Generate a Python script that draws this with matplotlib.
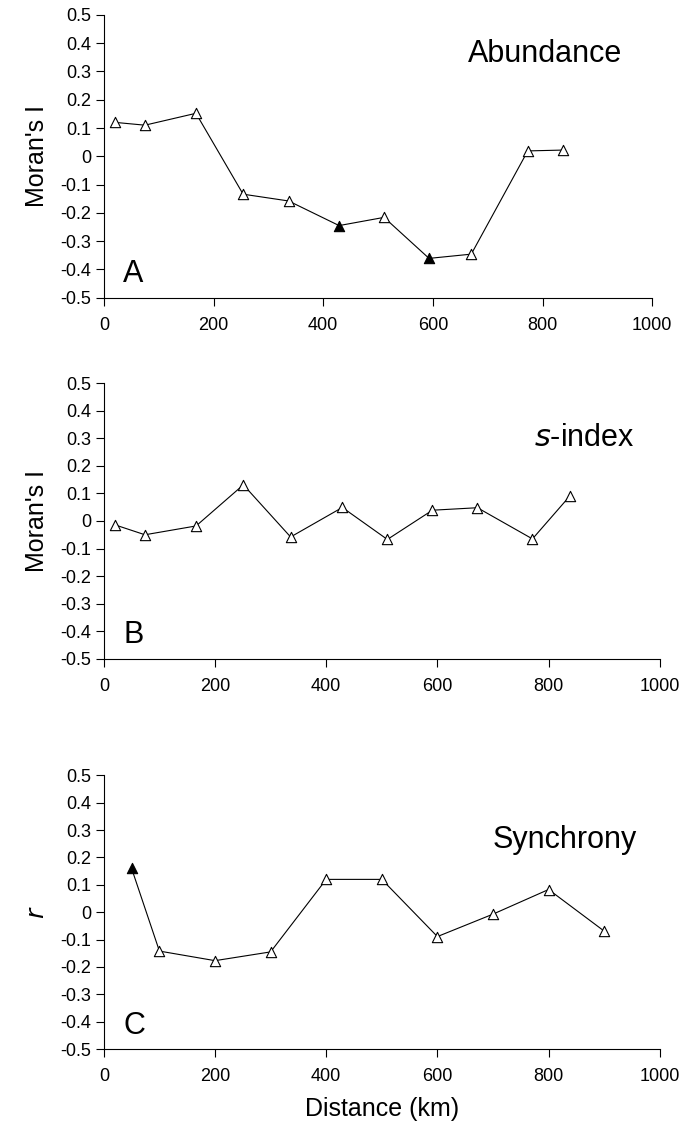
import numpy as np
import matplotlib
matplotlib.use("Agg")
import matplotlib.pyplot as plt

plt.rcParams['font.family'] = ['Liberation Sans', 'DejaVu Sans']

# panel A - abundance
abund_x = [20, 75, 168, 254, 337, 429, 511, 593, 670, 773, 837]
abund_y = [0.12, 0.11, 0.152, -0.134, -0.158, -0.245, -0.216, -0.361, -0.346, 0.019, 0.022]
abund_sig = [False, False, False, False, False, True, False, True, False, False, False]

# panel B - s-index
sidx_x = [20, 74, 166, 251, 336, 429, 510, 591, 672, 771, 838]
sidx_y = [-0.014, -0.05, -0.018, 0.131, -0.058, 0.049, -0.067, 0.039, 0.048, -0.065, 0.09]
sidx_sig = [False] * 11

# panel C - synchrony
sync_x = [50, 100, 200, 300, 400, 500, 600, 700, 800, 900]
sync_y = [0.16, -0.142, -0.177, -0.145, 0.12, 0.12, -0.089, -0.007, 0.083, -0.069]
sync_sig = [True, False, False, False, False, False, False, False, False, False]

yticks = [0.5, 0.4, 0.3, 0.2, 0.1, 0, -0.1, -0.2, -0.3, -0.4, -0.5]
ytick_labels = ['0.5', '0.4', '0.3', '0.2', '0.1', '0', '-0.1', '-0.2', '-0.3', '-0.4', '-0.5']
xticks = [0, 200, 400, 600, 800, 1000]

fig = plt.figure(figsize=(6.83, 11.45), dpi=100)

# (x, y, significant, title, title pos, letter, ylabel, axes rect)
panels = [
    (abund_x, abund_y, abund_sig, "Abundance", (0.805, 0.86), "A", "Moran's I", [0.152, 0.740, 0.803, 0.247]),
    (sidx_x, sidx_y, sidx_sig, "$\\it{s}$-index", (0.865, 0.80), "B", "Moran's I", [0.152, 0.4245, 0.814, 0.241]),
    (sync_x, sync_y, sync_sig, "Synchrony", (0.829, 0.763), "C", "$\\it{r}$", [0.152, 0.0838, 0.814, 0.239]),
]

for x, y, sig, title, tpos, letter, ylab, rect in panels:
    ax = fig.add_axes(rect)
    ax.plot(x, y, color='black', lw=0.8, zorder=1)
    xs = np.array(x)
    ys = np.array(y)
    s = np.array(sig)
    ax.scatter(xs[~s], ys[~s], marker='^', s=55, facecolor='white', edgecolor='black', linewidth=0.8, zorder=2)
    ax.scatter(xs[s], ys[s], marker='^', s=55, facecolor='black', edgecolor='black', linewidth=0.8, zorder=2)
    ax.set_xlim(0, 1000)
    ax.set_ylim(-0.5, 0.5)
    ax.set_yticks(yticks)
    ax.set_yticklabels(ytick_labels)
    ax.set_xticks(xticks)
    ax.spines['top'].set_visible(False)
    ax.spines['right'].set_visible(False)
    ax.tick_params(direction='out', length=6, width=0.8, labelsize=13, pad=3)
    ax.tick_params(axis='x', pad=8)
    ax.set_ylabel(ylab, fontsize=18, labelpad=8)
    ax.text(tpos[0], tpos[1], title, ha='center', va='center', fontsize=22, transform=ax.transAxes)
    ax.text(0.035, 0.085, letter, ha='left', va='center', fontsize=22, transform=ax.transAxes)
    if letter == "C":
        ax.set_xlabel("Distance (km)", fontsize=18, labelpad=8)

fig.savefig("out.png", dpi=100)
